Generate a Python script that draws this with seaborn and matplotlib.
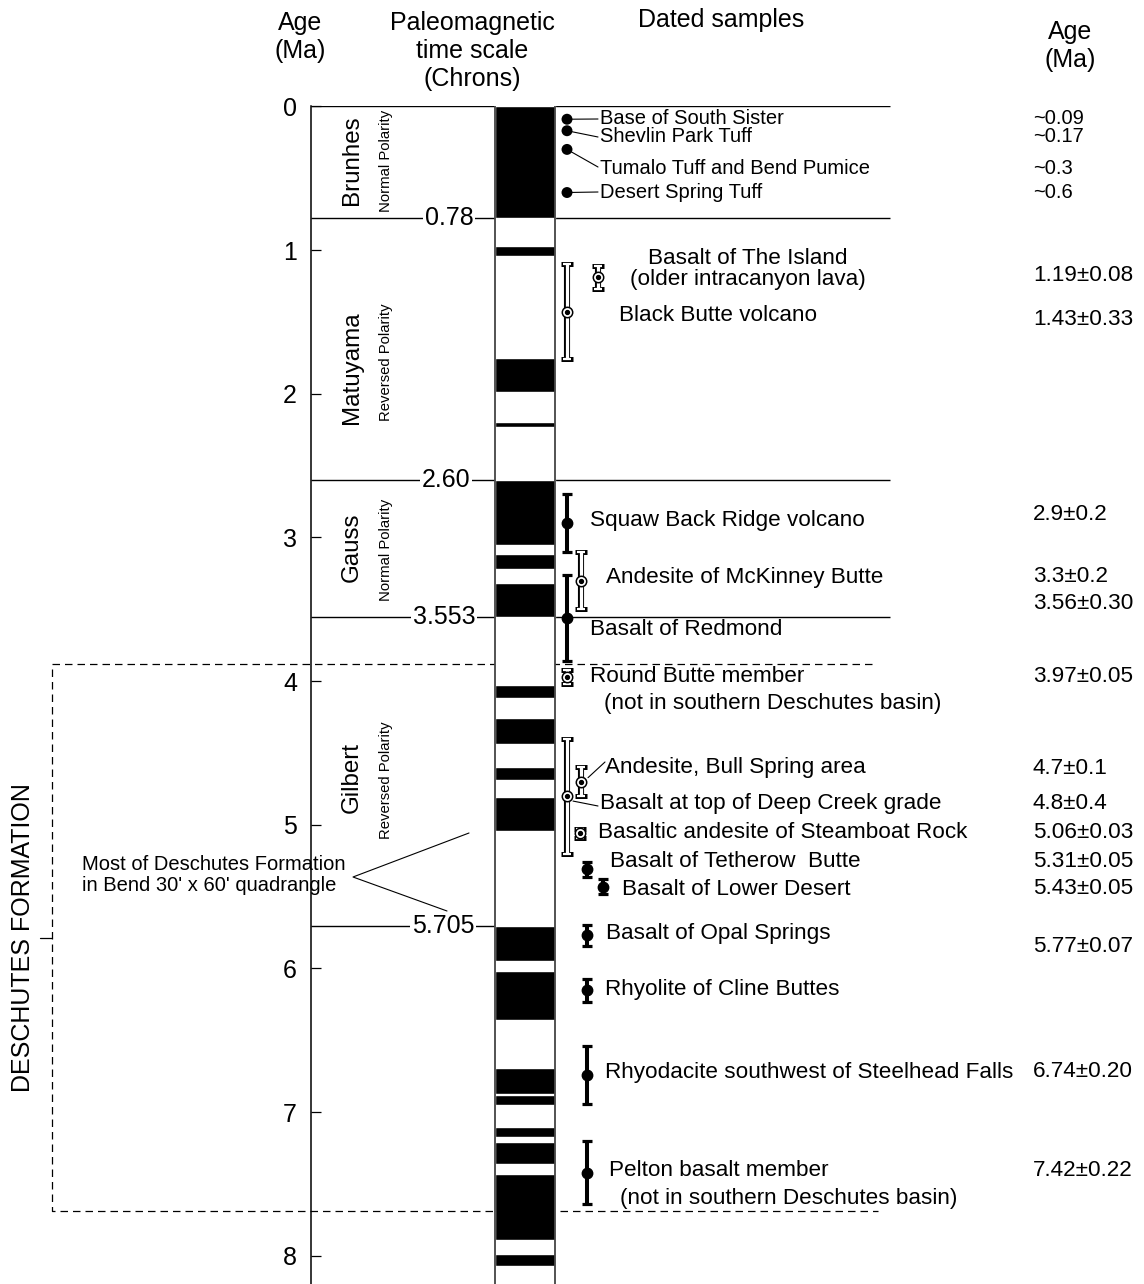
import numpy as np
import pandas as pd
import seaborn as sns
import matplotlib
matplotlib.use("Agg")
import matplotlib.pyplot as plt
from matplotlib.patches import Rectangle

# Polarity column (Ma): intervals of normal polarity (black bands)
normal_top = [0.00, 0.97, 1.75, 2.20, 2.60, 3.115, 3.32, 4.03, 4.26, 4.60, 4.81,
              5.705, 6.02, 6.69, 6.88, 7.10, 7.21, 7.43, 7.99]
normal_base = [0.78, 1.04, 1.99, 2.23, 3.05, 3.22, 3.553, 4.12, 4.44, 4.69, 5.04,
               5.95, 6.36, 6.87, 6.95, 7.17, 7.36, 7.89, 8.07]

# Chron boundaries
boundary_ages = [0.78, 2.60, 3.553, 5.705]
boundary_labels = ["0.78", "2.60", "3.553", "5.705"]
chron_names = ["Brunhes", "Matuyama", "Gauss", "Gilbert"]
chron_polarity = ["Normal Polarity", "Reversed Polarity", "Normal Polarity", "Reversed Polarity"]

# Deschutes Formation extent (Ma)
formation_top = 3.88
formation_base = 7.69

# Dated samples
sample_names = ["Base of South Sister", "Shevlin Park Tuff", "Tumalo Tuff and Bend Pumice",
                "Desert Spring Tuff", "Basalt of The Island\n(older intracanyon lava)",
                "Black Butte volcano", "Squaw Back Ridge volcano", "Andesite of McKinney Butte",
                "Basalt of Redmond", "Round Butte member", "Andesite, Bull Spring area",
                "Basalt at top of Deep Creek grade", "Basaltic andesite of Steamboat Rock",
                "Basalt of Tetherow  Butte", "Basalt of Lower Desert", "Basalt of Opal Springs",
                "Rhyolite of Cline Buttes", "Rhyodacite southwest of Steelhead Falls",
                "Pelton basalt member"]
sample_ages = [0.09, 0.17, 0.3, 0.6, 1.19, 1.43, 2.9, 3.3, 3.56, 3.97, 4.7, 4.8, 5.06,
               5.31, 5.43, 5.77, 6.15, 6.74, 7.42]
sample_errs = [0, 0, 0, 0, 0.08, 0.33, 0.2, 0.2, 0.30, 0.05, 0.1, 0.4, 0.03,
               0.05, 0.05, 0.07, 0.08, 0.20, 0.22]
sample_kind = ["dot", "dot", "dot", "dot", "open", "open", "filled", "open", "filled", "open",
               "open", "open", "open", "filled", "filled", "filled", "filled", "filled", "filled"]
sample_age_text = ["~0.09", "~0.17", "~0.3", "~0.6", "1.19\u00b10.08", "1.43\u00b10.33",
                   "2.9\u00b10.2", "3.3\u00b10.2", "3.56\u00b10.30", "3.97\u00b10.05",
                   "4.7\u00b10.1", "4.8\u00b10.4", "5.06\u00b10.03", "5.31\u00b10.05",
                   "5.43\u00b10.05", "5.77\u00b10.07", "", "6.74\u00b10.20", "7.42\u00b10.22"]

df = pd.DataFrame({"name": sample_names, "age": sample_ages, "err": sample_errs,
                   "kind": sample_kind, "age_text": sample_age_text})

# layout (pixels)
df["mx"] = [567, 567, 567, 567, 598, 567, 567, 581, 567, 567, 581, 567, 580, 587, 603, 587, 587, 587, 587]
df["lx"] = [600, 600, 600, 600, 748, 619, 590, 606, 590, 590, 605, 600, 598, 610, 622, 606, 605, 605, 609]
df["ly"] = [118, 137, 169, 193, 269, 316, 521, 578, 630, 677, 768, 804, 833, 862, 890, 934, 990, 1073, 1171]
df["ay"] = [118, 137, 168, 193, 276, 320, 515, 577, 604, 677, 769, 804, 833, 862, 889, 947, 0, 1072, 1171]

W, H = 1144, 1284
PX0, PXMA = 106.3, 143.7


def py(p):
    # pixel row -> age in Ma
    return (p - PX0) / PXMA


sns.set_theme(style="white")
plt.rcParams["font.family"] = ["Liberation Sans", "DejaVu Sans"]
plt.rcParams["text.color"] = "black"
plt.rcParams["axes.labelcolor"] = "black"
plt.rcParams["ytick.color"] = "black"

fig = plt.figure(figsize=(W / 100, H / 100), dpi=100)
ax = fig.add_axes([311 / W, 0, 1 - 311 / W, (H - PX0) / H])

# polarity column
ax.add_patch(Rectangle((495, 0), 60, py(H), facecolor="white", edgecolor="none", zorder=3))
ax.bar([525] * len(normal_top), np.subtract(normal_base, normal_top), bottom=normal_top,
       width=60, color="black", zorder=4)
ax.vlines([495, 555], 0, py(H), color="#444444", lw=1.3, zorder=5)

# chron boundaries
ax.hlines(0, 311, 890, color="black", lw=1, zorder=2)
bnd_end = [890, 890, 890, 495]
bnd_lx = [449, 446, 444, 443]
for age, lab, xe, lx in zip(boundary_ages, boundary_labels, bnd_end, bnd_lx):
    ax.hlines(age, 311, xe, color="black", lw=1, zorder=2)
    ax.text(lx, age, lab, fontsize=18, ha="center", va="center", zorder=2.5,
            bbox=dict(fc="white", ec="none", pad=1.5))

chron_y = [160, 368, 547, 778]
pol_y = [161, 362, 550, 780]
for nm, pol, cy, pyy in zip(chron_names, chron_polarity, chron_y, pol_y):
    ax.text(352, py(cy), nm, rotation=90, fontsize=17.4, ha="center", va="center")
    ax.text(386, py(pyy), pol, rotation=90, fontsize=10.7, ha="center", va="center")

# Deschutes Formation bracket
dash = (0, (6, 4))
ax.plot([872, 52, 52, 878], [formation_top, formation_top, formation_base, formation_base],
        color="black", lw=0.9, ls=dash, zorder=2, clip_on=False)
mid = (formation_top + formation_base) / 2
ax.plot([40, 52], [mid, mid], color="black", lw=0.9, clip_on=False)
ax.text(23, mid, "DESCHUTES FORMATION", rotation=90, fontsize=18, ha="center", va="center")
ax.text(82, py(875), "Most of Deschutes Formation\nin Bend 30' x 60' quadrangle",
        fontsize=14.5, ha="left", va="center", linespacing=1.15)
ax.plot([469, 353, 447], [py(833), py(877), py(911)], color="black", lw=0.8, clip_on=False)

# samples
dots = df[df["kind"] == "dot"]
sns.scatterplot(x=dots["mx"], y=dots["age"], s=62, color="black", edgecolor="none",
                legend=False, ax=ax, zorder=6)

for _, r in df[df["kind"] == "filled"].iterrows():
    ax.errorbar(r["mx"], r["age"], yerr=r["err"], fmt="o", color="black", ms=7.5,
                elinewidth=2.9, capsize=3.8, capthick=2.3, zorder=6)

for _, r in df[df["kind"] == "open"].iterrows():
    ax.errorbar(r["mx"], r["age"], yerr=r["err"], fmt="none", ecolor="black",
                elinewidth=4.4, capsize=4.2, capthick=3.6, zorder=6)
    ax.errorbar(r["mx"], r["age"], yerr=r["err"], fmt="none", ecolor="white",
                elinewidth=2.3, capsize=3.1, capthick=1.6, zorder=7)
    ax.plot(r["mx"], r["age"], "o", ms=7.5, mfc="white", mec="black", mew=1.1, zorder=8)
    ax.plot(r["mx"], r["age"], "o", ms=2.8, color="black", zorder=9)

# leader lines: (sample index, dx0, dy0 px, x1, y1 px)
leaders = [(0, 0, 0, 598, 119), (1, 0, 0, 598, 137), (2, 0, 0, 598, 167), (3, 0, 0, 598, 192),
           (10, 7, -4, 605, 762), (11, 6, 5, 598, 806)]
for i, dx0, dy0, x1, y1 in leaders:
    r = df.iloc[i]
    ax.plot([r["mx"] + dx0, x1], [r["age"] + dy0 / PXMA, py(y1)], color="black", lw=0.8, zorder=5)

for i, r in df.iterrows():
    fs = 14.5 if r["kind"] == "dot" else 16.2
    ha = "center" if "\n" in r["name"] else "left"
    ax.text(r["lx"], py(r["ly"]), r["name"], fontsize=fs, ha=ha, va="center", linespacing=1.05)
    if r["age_text"]:
        ax.text(1033, py(r["ay"]), r["age_text"], fontsize=fs, ha="left", va="center")

ax.text(604, py(704), "(not in southern Deschutes basin)", fontsize=16.2, ha="left", va="center")
ax.text(620, py(1199), "(not in southern Deschutes basin)", fontsize=16.2, ha="left", va="center")

# headers
ax.text(300, py(37), "Age\n(Ma)", fontsize=18, ha="center", va="center")
ax.text(472, py(51), "Paleomagnetic\ntime scale\n(Chrons)", fontsize=18, ha="center", va="center")
ax.text(721, py(20), "Dated samples", fontsize=18, ha="center", va="center")
ax.text(1070, py(46), "Age\n(Ma)", fontsize=18, ha="center", va="center")

# axis
ax.set_xlim(311, W)
ax.set_ylim(py(H), 0)
ax.set_xlabel("")
ax.set_ylabel("")
for s in ["top", "right", "bottom"]:
    ax.spines[s].set_visible(False)
ax.spines["left"].set_color("black")
ax.spines["left"].set_linewidth(1.1)
ax.set_xticks([])
ax.set_yticks(range(9))
ax.tick_params(axis="y", direction="in", length=7, width=0.9, labelsize=18, pad=10,
               left=True, colors="black")
ax.patch.set_visible(False)

fig.savefig("out.png", dpi=100, facecolor="white")
